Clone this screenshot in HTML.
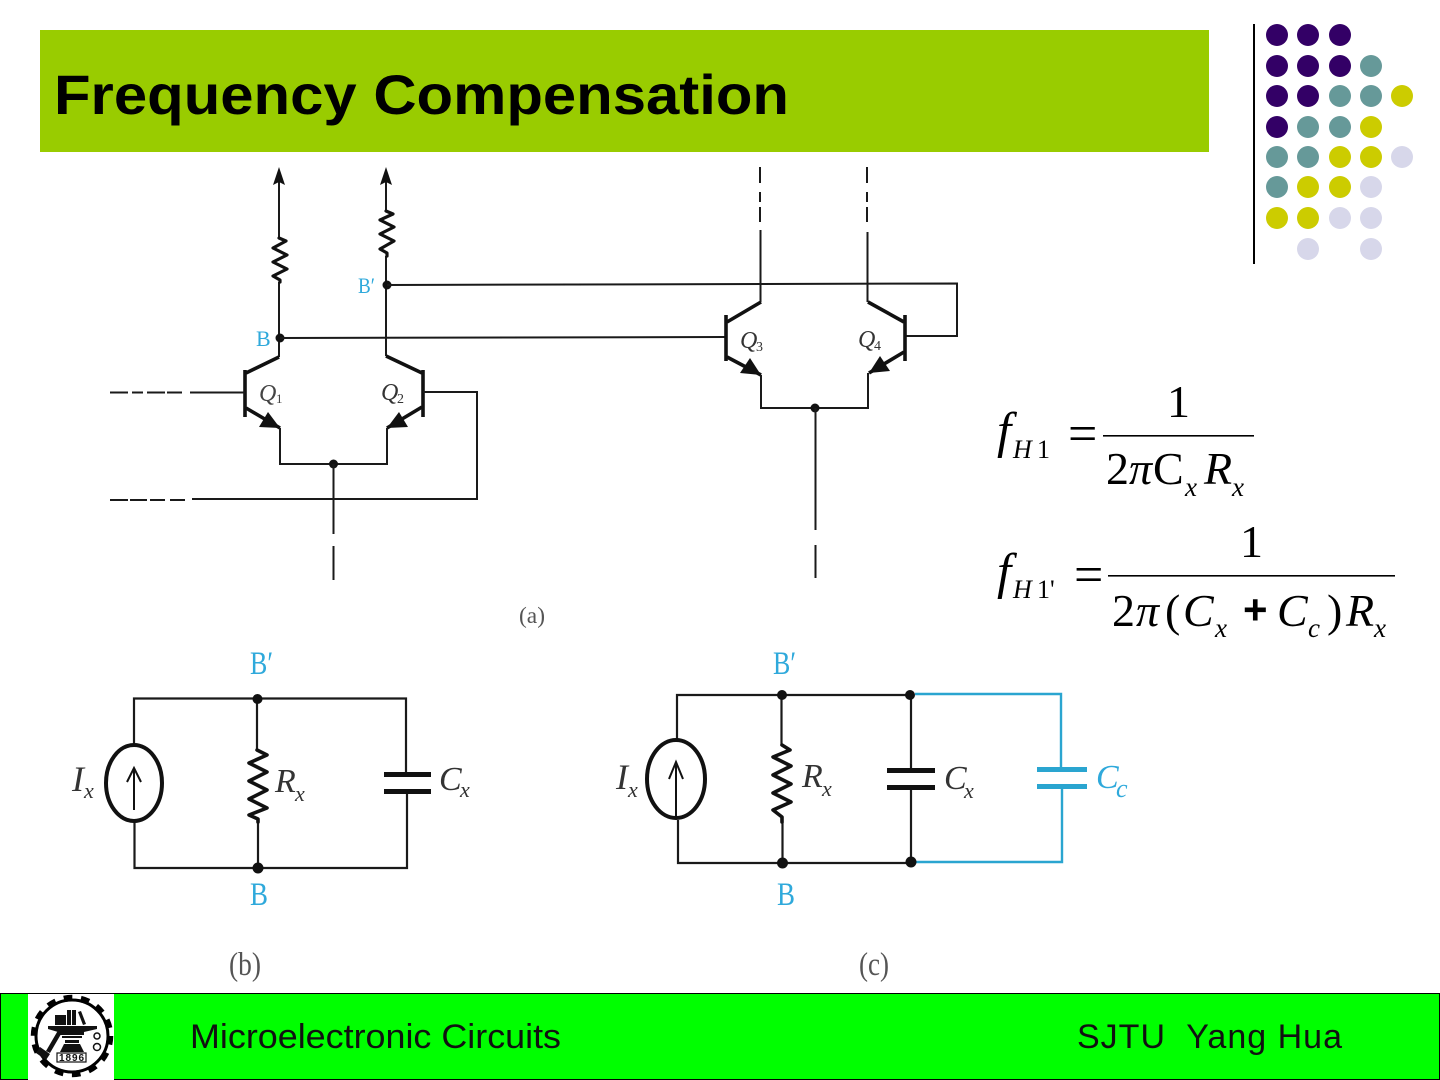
<!DOCTYPE html>
<html>
<head>
<meta charset="utf-8">
<style>
html,body{margin:0;padding:0;background:#fff;width:1440px;height:1080px;overflow:hidden}
svg{display:block}
.s{font-family:"Liberation Serif",serif}
.i{font-family:"Liberation Serif",serif;font-style:italic}
.a{font-family:"Liberation Sans",sans-serif}
.w{fill:none;stroke:#1a1a1a;stroke-width:2;stroke-linejoin:miter}
.t{fill:none;stroke:#111;stroke-width:3.6}
.z{fill:none;stroke:#111;stroke-width:3.2;stroke-linejoin:round;stroke-linecap:round}
.b{fill:#2fa9db}
.g{fill:#444}
</style>
</head>
<body>
<svg width="1440" height="1080" viewBox="0 0 1440 1080" xmlns="http://www.w3.org/2000/svg">
<rect width="1440" height="1080" fill="#fff"/>

<!-- Title -->
<rect x="40" y="30" width="1169" height="122" fill="#99cc00"/>
<text x="54" y="114" class="a" font-size="56" font-weight="700" fill="#000" textLength="735" lengthAdjust="spacingAndGlyphs">Frequency Compensation</text>

<!-- Dots decoration -->
<rect x="1253" y="24" width="2" height="240" fill="#000"/>
<g fill="#330066">
<circle cx="1277" cy="35" r="11"/><circle cx="1308" cy="35" r="11"/><circle cx="1340" cy="35" r="11"/>
<circle cx="1277" cy="66" r="11"/><circle cx="1308" cy="66" r="11"/><circle cx="1340" cy="66" r="11"/>
<circle cx="1277" cy="96" r="11"/><circle cx="1308" cy="96" r="11"/>
<circle cx="1277" cy="127" r="11"/>
</g>
<g fill="#669999">
<circle cx="1371" cy="66" r="11"/>
<circle cx="1340" cy="96" r="11"/><circle cx="1371" cy="96" r="11"/>
<circle cx="1308" cy="127" r="11"/><circle cx="1340" cy="127" r="11"/>
<circle cx="1277" cy="157" r="11"/><circle cx="1308" cy="157" r="11"/>
<circle cx="1277" cy="187" r="11"/>
</g>
<g fill="#cccc00">
<circle cx="1402" cy="96" r="11"/>
<circle cx="1371" cy="127" r="11"/>
<circle cx="1340" cy="157" r="11"/><circle cx="1371" cy="157" r="11"/>
<circle cx="1308" cy="187" r="11"/><circle cx="1340" cy="187" r="11"/>
<circle cx="1277" cy="218" r="11"/><circle cx="1308" cy="218" r="11"/>
</g>
<g fill="#d7d7ea">
<circle cx="1402" cy="157" r="11"/>
<circle cx="1371" cy="187" r="11"/>
<circle cx="1340" cy="218" r="11"/><circle cx="1371" cy="218" r="11"/>
<circle cx="1308" cy="249" r="11"/><circle cx="1371" cy="249" r="11"/>
</g>

<!-- Diagram (a) wires -->
<path class="w" d="M279 180V238M279 282V357"/>
<path class="w" d="M386 180V211M386 256V356"/>
<path d="M279 167L273 185L279 182L285 185Z M386 167L380 185L386 182L392 185Z" fill="#111"/>
<path class="z" d="M279 238L286 241L273 248L287 255L273 262L287 269L273 276L280 280V282"/>
<path class="z" d="M386 211L393 214L380 220L394 227L380 234L394 241L380 249L387 253V256"/>
<circle cx="280" cy="338" r="4.500" fill="#111"/>
<circle cx="387" cy="285" r="4.500" fill="#111"/>
<path class="w" d="M280 338L725 337"/>
<path class="w" d="M387 285L957 283.500V336H905"/>
<!-- Q1 -->
<path class="t" d="M245 370V417"/>
<path class="t" d="M246 373L279 357M246 408L280 428"/>
<path d="M280 428L259 427L268 412Z" fill="#111"/>
<path class="w" d="M110 392.500H128M132 392.500H143M147 392.500H165M167 392.500H182M190 392.500H245"/>
<!-- Q2 -->
<path class="t" d="M423 370V417"/>
<path class="t" d="M422 373L386 356M422 407L387 428"/>
<path d="M387 428L408 427L399 412Z" fill="#111"/>
<path class="w" d="M423 392H477V499H192M110 500H128M130 500H147M150 500H165M170 500H185"/>
<path class="w" d="M280 428V464H387V428"/>
<circle cx="333.500" cy="464" r="4.500" fill="#111"/>
<path class="w" d="M333.500 464V534M333.500 546V580"/>
<!-- Q3 -->
<path class="t" d="M726 315V361"/>
<path class="t" d="M727 322L761 302M727 357L761 375"/>
<path d="M761 375L740 373L750 358Z" fill="#111"/>
<path class="w" d="M760 167V183M760 192V202M760 207V222M760.500 230V302"/>
<!-- Q4 -->
<path class="t" d="M905 315V361"/>
<path class="t" d="M904 322L868 302M904 352L869 373"/>
<path d="M869 373L890 371L880 356Z" fill="#111"/>
<path class="w" d="M867 167V183M867 192V202M867 207V222M867.500 232V302"/>
<path class="w" d="M761 375V408H868V373"/>
<circle cx="815" cy="408" r="4.500" fill="#111"/>
<path class="w" d="M815.500 408V530M815.500 545V578"/>

<!-- (a) labels -->
<text x="358" y="293" class="s b" font-size="22" textLength="17" lengthAdjust="spacingAndGlyphs">B′</text>
<text x="256" y="346" class="s b" font-size="22">B</text>
<text x="259" y="401" class="i g" font-size="24">Q</text><text x="276" y="403" class="s g" font-size="13">1</text>
<text x="381" y="400" class="i" font-size="24" fill="#333">Q</text><text x="397" y="403" class="s" font-size="14" fill="#333">2</text>
<text x="740" y="348" class="i" font-size="24" fill="#333">Q</text><text x="756" y="351" class="s" font-size="14" fill="#333">3</text>
<text x="858" y="347" class="i" font-size="24" fill="#333">Q</text><text x="874" y="350" class="s" font-size="14" fill="#333">4</text>
<text x="519" y="623" class="s" font-size="23" fill="#555" textLength="26" lengthAdjust="spacingAndGlyphs">(a)</text>

<!-- Equations -->
<g fill="#000">
<text x="997" y="447" class="i" font-size="51">f</text>
<text x="1013" y="458" class="i" font-size="26">H</text>
<text x="1037" y="458" class="s" font-size="26">1</text>
<text x="1068" y="451" class="s" font-size="52">=</text>
<text x="1167" y="417" class="s" font-size="46">1</text>
<rect x="1103" y="435" width="151" height="1.600"/>
<text x="1106" y="484" class="s" font-size="46">2</text>
<text x="1129" y="484" class="i" font-size="46">π</text>
<text x="1153" y="484" class="s" font-size="46">C</text>
<text x="1185" y="496" class="i" font-size="27">x</text>
<text x="1204" y="484" class="i" font-size="46">R</text>
<text x="1232" y="496" class="i" font-size="27">x</text>

<text x="997" y="588" class="i" font-size="51">f</text>
<text x="1013" y="598" class="i" font-size="26">H</text>
<text x="1037" y="598" class="s" font-size="26">1'</text>
<text x="1074" y="592" class="s" font-size="52">=</text>
<text x="1240" y="557" class="s" font-size="46">1</text>
<rect x="1108" y="575" width="287" height="1.600"/>
<text x="1112" y="626" class="s" font-size="46">2</text>
<text x="1136" y="626" class="i" font-size="46">π</text>
<text x="1165" y="626" class="s" font-size="46">(</text>
<text x="1183" y="626" class="i" font-size="46">C</text>
<text x="1215" y="637" class="i" font-size="27">x</text>
<text x="1243" y="624" class="a" font-size="42" font-weight="700">+</text>
<text x="1277" y="626" class="i" font-size="46">C</text>
<text x="1308" y="637" class="i" font-size="27">c</text>
<text x="1327" y="626" class="s" font-size="46">)</text>
<text x="1346" y="626" class="i" font-size="46">R</text>
<text x="1374" y="637" class="i" font-size="27">x</text>
</g>

<!-- Panel (b) -->
<path style="fill:none;stroke:#1a1a1a;stroke-width:2.200" d="M134 744V698.500H406V772M407 792V868H134.500V822M257 699V750M258 820V868"/>
<ellipse cx="134" cy="783" rx="28" ry="38" fill="#fff" stroke="#111" stroke-width="4"/>
<path style="fill:none;stroke:#111;stroke-width:2" d="M134 810V770M127 782L134 768L141 782"/>
<path class="z" style="stroke-width:3.600" d="M257 750L267 755L249 763L267 772L249 781L267 790L249 799L267 808L249 815L258 819V822"/>
<rect x="384" y="772" width="47" height="5" fill="#111"/>
<rect x="384" y="789" width="47" height="5" fill="#111"/>
<circle cx="257.500" cy="699" r="5" fill="#111"/>
<circle cx="258" cy="868" r="5.500" fill="#111"/>
<text x="250" y="674" class="s b" font-size="33" textLength="23" lengthAdjust="spacingAndGlyphs">B′</text>
<text x="250" y="905" class="s b" font-size="33" textLength="18" lengthAdjust="spacingAndGlyphs">B</text>
<text x="72" y="791" class="i" font-size="36" fill="#333">I</text><text x="84" y="798" class="i" font-size="22" fill="#333">x</text>
<text x="275" y="792" class="i" font-size="34" fill="#333">R</text><text x="295" y="801" class="i" font-size="22" fill="#333">x</text>
<text x="439" y="790" class="i" font-size="34" fill="#333">C</text><text x="460" y="797" class="i" font-size="22" fill="#333">x</text>
<text x="229" y="975" class="s" font-size="33" fill="#555" textLength="32" lengthAdjust="spacingAndGlyphs">(b)</text>

<!-- Panel (c) -->
<path style="fill:none;stroke:#1a1a1a;stroke-width:2.200" d="M677 740V695H910M911 695V772M911 790V863H678V820M781.500 695V745M782.500 822V863"/>
<ellipse cx="676" cy="779" rx="29" ry="39" fill="#fff" stroke="#111" stroke-width="4"/>
<path style="fill:none;stroke:#111;stroke-width:2" d="M676 816V765M669 779L676 762L683 779"/>
<path class="z" style="stroke-width:3.600" d="M782 745L790 750L773 757L791 766L773 775L791 784L773 793L791 802L773 810L782 817V822"/>
<rect x="887" y="768" width="48" height="5" fill="#111"/>
<rect x="887" y="785" width="48" height="5" fill="#111"/>
<path style="fill:none;stroke:#2aa5d0;stroke-width:2.400" d="M915 694H1061V767M1062 787V862H915"/>
<rect x="1037" y="767" width="50" height="5" fill="#2aa5d0"/>
<rect x="1037" y="784" width="50" height="5" fill="#2aa5d0"/>
<circle cx="782" cy="695" r="5" fill="#111"/>
<circle cx="910" cy="695" r="5" fill="#111"/>
<circle cx="782.500" cy="863" r="5.500" fill="#111"/>
<circle cx="911" cy="862" r="5.500" fill="#111"/>
<text x="773" y="674" class="s b" font-size="33" textLength="23" lengthAdjust="spacingAndGlyphs">B′</text>
<text x="777" y="905" class="s b" font-size="33" textLength="18" lengthAdjust="spacingAndGlyphs">B</text>
<text x="616" y="789" class="i" font-size="36" fill="#333">I</text><text x="628" y="797" class="i" font-size="22" fill="#333">x</text>
<text x="802" y="787" class="i" font-size="34" fill="#333">R</text><text x="822" y="796" class="i" font-size="22" fill="#333">x</text>
<text x="944" y="789" class="i" font-size="34" fill="#333">C</text><text x="964" y="798" class="i" font-size="22" fill="#333">x</text>
<text x="1096" y="788" class="i b" font-size="34">C</text><text x="1116" y="797" class="i b" font-size="26">c</text>
<text x="859" y="975" class="s" font-size="33" fill="#555" textLength="30" lengthAdjust="spacingAndGlyphs">(c)</text>

<!-- Footer -->
<rect x="0.500" y="993.500" width="1439" height="86" fill="#00ff00" stroke="#000" stroke-width="1"/>
<rect x="28" y="994" width="86" height="86" fill="#fff"/>
<circle cx="72" cy="1036" r="38" fill="none" stroke="#000" stroke-width="6.500" stroke-dasharray="8.500 8.560"/>
<circle cx="72" cy="1036" r="36" fill="none" stroke="#000" stroke-width="3"/>
<g fill="#111">
<rect x="55" y="1015" width="11" height="10"/>
<rect x="67" y="1010" width="4" height="15"/>
<rect x="72" y="1010" width="4" height="15"/>
<path d="M78 1012L81 1011L86 1024L83 1025Z"/>
<path d="M48 1026H97V1029L84 1032V1035H58V1032L48 1029Z"/>
<rect x="62" y="1036" width="20" height="2"/>
<rect x="65" y="1040" width="14" height="3"/>
<path d="M60 1052L64 1044H80L84 1052Z"/>
<path d="M60 1027L64 1029L50 1053L46 1051Z"/>
<path d="M40 1047L50 1054L46 1060L36 1053Z"/>
<circle cx="97" cy="1036" r="3" fill="none" stroke="#111" stroke-width="1.500"/>
<circle cx="97" cy="1047" r="3.500" fill="none" stroke="#111" stroke-width="1.500"/>
</g>
<rect x="57" y="1053" width="29" height="9" fill="#fff" stroke="#111" stroke-width="1.200"/>
<text x="59" y="1061" class="a" font-size="10" font-weight="700" fill="#111" textLength="25">1896</text>
<text x="190" y="1048" class="a" font-size="34" fill="#111" textLength="371" lengthAdjust="spacingAndGlyphs">Microelectronic Circuits</text>
<text x="1077" y="1048" class="a" font-size="34" fill="#111" textLength="265" lengthAdjust="spacing" xml:space="preserve">SJTU  Yang Hua</text>
</svg>
</body>
</html>
